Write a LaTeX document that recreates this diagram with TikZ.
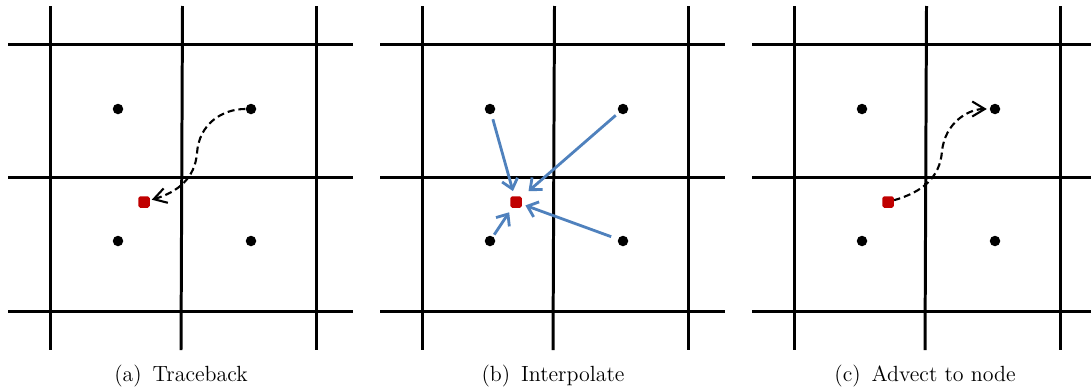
\documentclass[tikz,border=0pt]{standalone}
\usepackage{tikz}
\usetikzlibrary{arrows.meta}
\definecolor{ink}{RGB}{0,0,0}
\definecolor{marker}{RGB}{192,0,0}
\definecolor{flowblue}{RGB}{79,129,189}
\tikzset{
  every picture/.style={x=0.02cm, y=-0.02cm, color=ink},
  gridline/.style={line width=1.7pt, color=ink},
  cell/.style={circle, fill=ink, inner sep=0pt, minimum size=0.21cm},
  probe/.style={rectangle, fill=marker, rounded corners=1pt, inner sep=0pt, minimum size=0.23cm},
  flow/.style={-{Straight Barb[length=0.19cm,width=0.32cm]}, line width=1.6pt, color=flowblue, shorten >=0.1cm, shorten <=0.1cm},
  trace/.style={dash pattern=on 0.14cm off 0.08cm, line width=1.2pt, color=ink},
  tracetip/.tip={Straight Barb[length=0.25cm,width=0.3cm]},
  sublbl/.style={font=\fontsize{12.5}{15}\selectfont, inner sep=0pt},
}

\begin{document}
\begin{tikzpicture}
  \useasboundingbox (0,0) rectangle (1091,389);
  % Three copies of the same grid: cell centres as dots, the particle as a red square.
  \foreach \p/\ox/\txt in {a/0/Traceback, b/372/Interpolate, c/744/Advect to node} {
    \begin{scope}[shift={(\ox,0)}]
      \foreach \y in {44.3,177.7,311} \draw[gridline] (8.3,\y) -- (352.7,\y);
      \draw[gridline] (50.7,6) -- (50.7,350);
      \draw[gridline] (182.5,6) -- (181,350);
      \draw[gridline] (316.7,6) -- (316.7,350);
      \node[cell] (\p-ul) at (118,109) {};
      \node[cell] (\p-ur) at (251,109) {};
      \node[cell] (\p-ll) at (118,241) {};
      \node[cell] (\p-lr) at (251,241) {};
      \node[probe] (\p-sq) at (144,202) {};
      \node[sublbl] (\p-lbl) at (181,376) {(\p)\hspace{0.5em}\txt};
    \end{scope}
  }
  % (a) trace back from the node
  \draw[trace, -tracetip, shorten >=1pt] (a-ur) .. controls (222,109) and (199,124) .. (197,153)
    .. controls (195,178) and (178,192) .. (a-sq);
  % (b) gather from the four neighbours
  \draw[flow] (b-ul) -- (b-sq);
  \draw[flow, shorten >=0.17cm, shorten <=0.08cm] (b-ur) -- (b-sq);
  \draw[flow, shorten >=0.07cm, shorten <=0.14cm] (b-lr) -- (b-sq);
  \draw[flow, shorten <=0.04cm] (b-ll) -- (b-sq);
  % (c) carry the value forward again
  \begin{scope}[shift={(744,0)}]
    \draw[trace, tracetip-, shorten <=1.5pt] (c-ur) .. controls (224,109) and (201,123) .. (198,151)
      .. controls (196,178) and (178,192) .. (c-sq);
  \end{scope}
\end{tikzpicture}
\end{document}
